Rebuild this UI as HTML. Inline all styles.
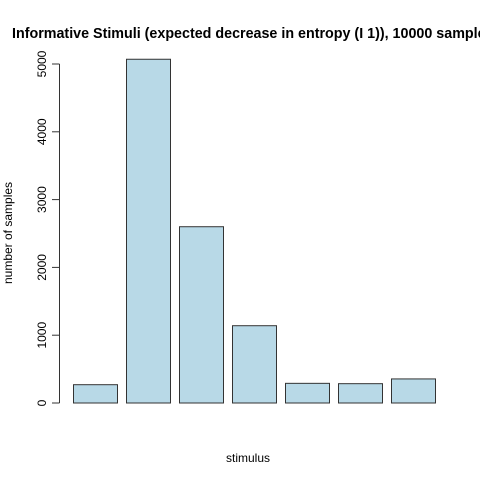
<!DOCTYPE html>
<html><head><meta charset="utf-8"><style>
body{margin:0;background:#fff;width:480px;height:480px;overflow:hidden;font-family:"Liberation Sans",Arial,sans-serif}
</style></head><body>
<svg width="480" height="480" style="position:absolute;left:0;top:0">
<text x="12" y="38" font-size="14.3" font-weight="bold">Informative Stimuli (expected decrease in entropy (I 1)), 10000 samples</text>
<g id="bars"></g>
<g id="yaxis"></g>
<text x="248" y="462" font-size="12" text-anchor="middle">stimulus</text>
<text transform="translate(12,233) rotate(-90)" font-size="12" text-anchor="middle">number of samples</text>
</svg>
<script>
const categories = ["1","2","3","4","5","6","7"];
const values = [270, 5070, 2600, 1140, 290, 285, 355];
const yTicks = [0, 1000, 2000, 3000, 4000, 5000];
const NS = "http://www.w3.org/2000/svg";
function y(v){return 403 - v*339/5000;}
function x(i){return 73.5 + i*53;}
const bw = 44;
const bars = document.getElementById("bars");
values.forEach((v,i)=>{
  const r = document.createElementNS(NS,"rect");
  r.setAttribute("x", x(i)); r.setAttribute("y", y(v));
  r.setAttribute("width", bw); r.setAttribute("height", 403 - y(v));
  r.setAttribute("fill","#b8d9e7"); r.setAttribute("stroke","#333"); r.setAttribute("stroke-width","1");
  
  
  bars.appendChild(r);
});
const ya = document.getElementById("yaxis");
const ln = document.createElementNS(NS,"line");
ln.setAttribute("x1",59.5);ln.setAttribute("x2",59.5);ln.setAttribute("y1",y(0));ln.setAttribute("y2",y(5000));
ln.setAttribute("stroke","#333");


ya.appendChild(ln);
yTicks.forEach(t=>{
  const tk = document.createElementNS(NS,"line");
  tk.setAttribute("x1",52);tk.setAttribute("x2",59.5);tk.setAttribute("y1",y(t));tk.setAttribute("y2",y(t));
  tk.setAttribute("stroke","#333");
  
  
  ya.appendChild(tk);
  const tx = document.createElementNS(NS,"text");
  tx.setAttribute("transform","translate(46,"+y(t)+") rotate(-90)");
  tx.setAttribute("text-anchor","middle");tx.setAttribute("font-size","12");
  tx.textContent = t;
  
  
  ya.appendChild(tx);
});
</script>
</body></html>
